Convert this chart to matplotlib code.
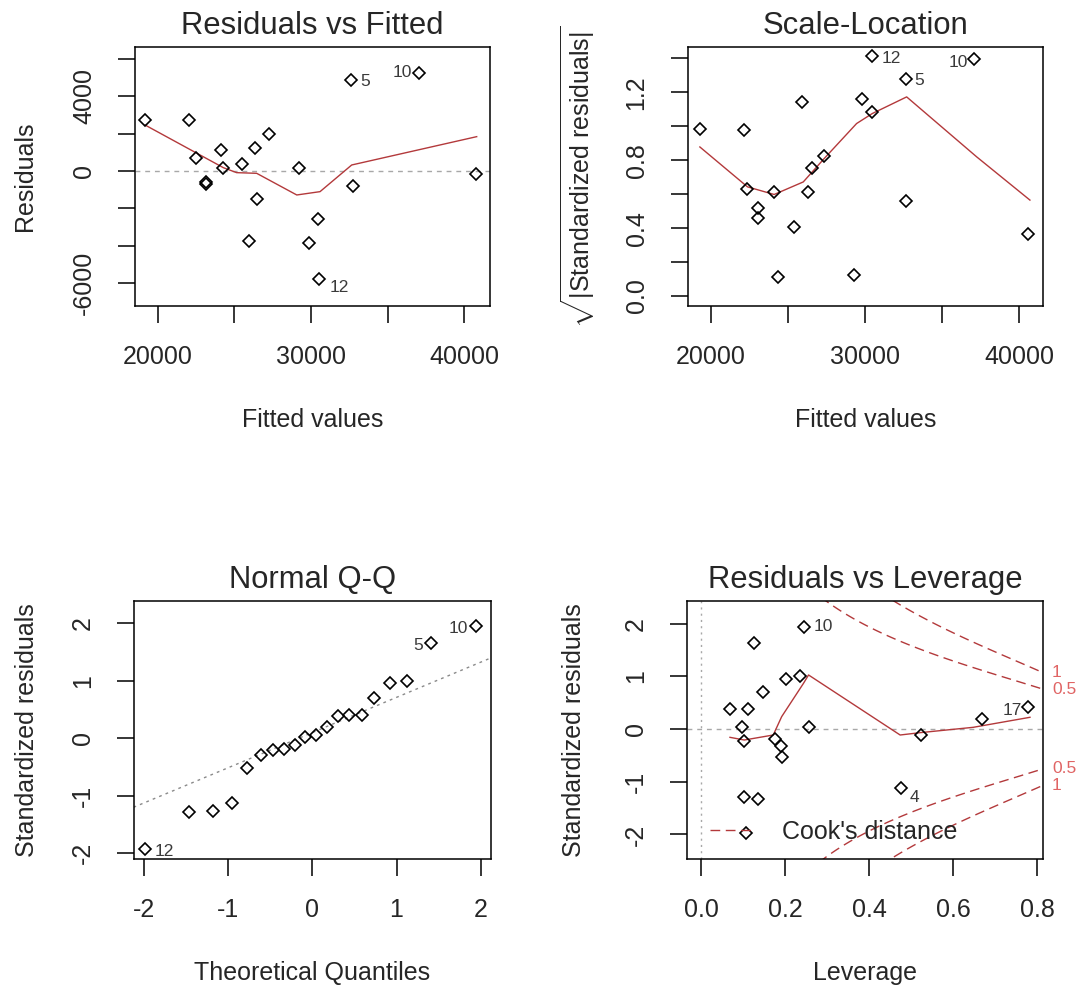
import numpy as np
import matplotlib
matplotlib.use("Agg")
import matplotlib.pyplot as plt
from matplotlib.lines import Line2D

plt.rcParams['font.family'] = ['Liberation Sans', 'DejaVu Sans']
plt.rcParams['mathtext.fontset'] = 'custom'
plt.rcParams['mathtext.rm'] = 'Liberation Sans'
plt.rcParams['mathtext.it'] = 'Liberation Sans:italic'
plt.rcParams['mathtext.bf'] = 'Liberation Sans:bold'

# ---- Residuals vs Fitted ----
fitted = [19150, 22030, 22460, 23120, 23120, 24120, 24270, 25470, 26340, 25970,
          26450, 27280, 29240, 29890, 30440, 30550, 32610, 32770, 37080, 40780]
residuals = [2730, 2730, 680, -570, -700, 1120, 140, 360, 1210, -3730,
             -1500, 1960, 140, -3830, -2570, -5760, 4870, -800, 5260, -180]
resid_ids = {16: "5", 18: "10", 15: "12"}
resid_smooth_x = [19150, 24270, 25140, 26450, 29070, 30590, 32660, 40830]
resid_smooth_y = [2460, 178, -89, -125, -1283, -1105, 321, 1836]

# ---- Scale-Location ----
sl_fitted = [19290, 22170, 22380, 23030, 23030, 24110, 24370, 25390, 25930, 26320,
             26540, 27360, 29310, 29830, 30480, 30480, 32660, 32660, 37100, 40600]
sl_sqrt_std = [0.986, 0.976, 0.633, 0.516, 0.457, 0.610, 0.114, 0.408, 1.143, 0.610,
               0.755, 0.824, 0.124, 1.163, 1.084, 1.412, 1.280, 0.561, 1.398, 0.363]
sl_ids = {15: "12", 16: "5", 18: "10"}
sl_smooth_x = [19290, 22380, 24110, 26000, 27360, 29460, 30480, 32710, 37250, 40710]
sl_smooth_y = [0.878, 0.643, 0.598, 0.672, 0.810, 1.016, 1.075, 1.173, 0.820, 0.565]

# ---- Normal Q-Q ----
theoretical_q = [-1.99, -1.46, -1.18, -0.96, -0.78, -0.61, -0.47, -0.34, -0.21, -0.09,
                 0.04, 0.18, 0.30, 0.44, 0.59, 0.73, 0.92, 1.12, 1.41, 1.94]
std_resid_sorted = [-1.93, -1.29, -1.26, -1.12, -0.52, -0.29, -0.20, -0.19, -0.12, 0.02,
                    0.06, 0.20, 0.38, 0.41, 0.41, 0.70, 0.97, 1.00, 1.66, 1.95]
qq_ids = {0: "12", 18: "5", 19: "10"}
qq_line_intercept = 0.10
qq_line_slope = 0.612

# ---- Residuals vs Leverage ----
leverage = [0.246, 0.127, 0.202, 0.236, 0.147, 0.069, 0.111, 0.098, 0.256, 0.103,
            0.175, 0.190, 0.194, 0.523, 0.670, 0.779, 0.475, 0.103, 0.136, 0.107]
lev_std_resid = [1.941, 1.638, 0.954, 1.006, 0.696, 0.380, 0.380, 0.032, 0.032, -0.222,
                 -0.190, -0.317, -0.537, -0.114, 0.190, 0.423, -1.125, -1.284, -1.334, -1.967]
lev_ids = {0: "10", 15: "17", 16: "4"}
lev_smooth_x = [0.069, 0.103, 0.172, 0.192, 0.244, 0.256, 0.474, 0.521, 0.648, 0.783]
lev_smooth_y = [-0.158, -0.209, -0.114, 0.234, 0.867, 1.025, -0.114, -0.070, 0.032, 0.222]
n_params = 5
cook_levels = [0.5, 1.0]

# ---- styling ----
RED = '#b3393b'
RED_TXT = '#e06464'
TXT = '#262626'
ID_TXT = '#3a3a3a'
W, H = 1078, 989

fig = plt.figure(figsize=(W / 100, H / 100), dpi=100)


def px_axes(left, top, right, bottom):
    return fig.add_axes([left / W, 1 - bottom / H, (right - left) / W, (bottom - top) / H])


def style(ax, xlim, ylim, xticks, xlabels, yticks, ylabels, title, xlabel, ylabel, ylab_x):
    ax.set_xlim(*xlim)
    ax.set_ylim(*ylim)
    ax.set_xticks(xticks)
    ax.set_xticklabels(xlabels)
    ax.set_yticks(yticks)
    ax.set_yticklabels(ylabels, rotation=90, va='center')
    ax.tick_params(direction='out', length=12, width=1.1, pad=16, labelsize=18,
                   labelcolor=TXT)
    for s in ax.spines.values():
        s.set_linewidth(1.1)
    ax.set_title(title, fontsize=22.3, pad=9, color=TXT)
    ax.set_xlabel(xlabel, fontsize=18, color=TXT)
    ax.xaxis.set_label_coords(0.5, -0.44)
    ax.xaxis.label.set_va('center')
    ax.set_ylabel(ylabel, fontsize=18, color=TXT)
    ax.yaxis.set_label_coords(ylab_x, 0.5)
    ax.yaxis.label.set_va('center')


def points(ax, x, y):
    ax.plot(x, y, linestyle='none', marker='D', ms=6.2, mfc='none', mec='black',
            mew=1.2, zorder=3)


def ids(ax, x, y, id_map, specs):
    for i, lab in id_map.items():
        dx, dy, ha = specs[lab]
        ax.annotate(lab, (x[i], y[i]), xytext=(dx, dy), textcoords='offset points',
                    ha=ha, va='center', fontsize=12.5, color=ID_TXT,
                    annotation_clip=False)


# Residuals vs Fitted
ax1 = px_axes(135, 47, 490, 306)
ax1.axhline(0, color='#a8a8a8', lw=1, ls=(0, (3.5, 3.5)), zorder=1)
ax1.plot(resid_smooth_x, resid_smooth_y, color=RED, lw=1.0, zorder=2)
points(ax1, fitted, residuals)
ids(ax1, fitted, residuals, resid_ids,
    {"5": (6.5, -1, 'left'), "10": (-5.3, 0, 'right'), "12": (7.7, -6.5, 'left')})
style(ax1, (18497, 41699), (-7220, 6630),
      [20000, 25000, 30000, 35000, 40000], ['20000', '', '30000', '', '40000'],
      [-6000, -4000, -2000, 0, 2000, 4000, 6000], ['-6000', '', '', '0', '', '4000', ''],
      'Residuals vs Fitted', 'Fitted values', 'Residuals', -0.31)

# Scale-Location
ax2 = px_axes(687.5, 47, 1043, 306)
ax2.plot(sl_smooth_x, sl_smooth_y, color=RED, lw=1.0, zorder=2)
points(ax2, sl_fitted, sl_sqrt_std)
ids(ax2, sl_fitted, sl_sqrt_std, sl_ids,
    {"12": (6.8, -1.7, 'left'), "5": (5.8, -1.2, 'left'), "10": (-4.5, -2.4, 'right')})
style(ax2, (18487, 41558), (-0.059, 1.467),
      [20000, 25000, 30000, 35000, 40000], ['20000', '', '30000', '', '40000'],
      [0.0, 0.2, 0.4, 0.6, 0.8, 1.0, 1.2, 1.4], ['0.0', '', '0.4', '', '0.8', '', '1.2', ''],
      'Scale-Location', 'Fitted values',
      r'$\sqrt{|\mathrm{Standardized\ residuals}|}$', -0.308)

# Normal Q-Q
ax3 = px_axes(134, 600.7, 491, 859.3)
qx = np.array([-2.2, 2.2])
ax3.plot(qx, qq_line_intercept + qq_line_slope * qx, color='#8a8a8a', lw=1,
         ls=(0, (2, 3)), zorder=1)
points(ax3, theoretical_q, std_resid_sorted)
ids(ax3, theoretical_q, std_resid_sorted, qq_ids,
    {"10": (-5.8, -1.4, 'right'), "5": (-5.8, -1.7, 'right'), "12": (7.2, -1.7, 'left')})
style(ax3, (-2.118, 2.122), (-2.104, 2.393),
      [-2, -1, 0, 1, 2], ['-2', '-1', '0', '1', '2'],
      [-2, -1, 0, 1, 2], ['-2', '-1', '0', '1', '2'],
      'Normal Q-Q', 'Theoretical Quantiles', 'Standardized residuals', -0.30)

# Residuals vs Leverage
ax4 = px_axes(686.7, 600.7, 1043, 859.3)
xlim4 = (-0.034, 0.814)
ylim4 = (-2.472, 2.434)
ax4.axhline(0, color='#a8a8a8', lw=1, ls=(0, (3.5, 3.5)), zorder=1)
ax4.axvline(0, color='#a8a8a8', lw=1, ls=(0, (1.5, 3)), zorder=1)
hh = np.linspace(0.0078, xlim4[1], 101)
for lvl in cook_levels:
    yc = np.sqrt(lvl * n_params * (1 - hh) / hh)
    ax4.plot(hh, yc, color=RED, lw=1.0, ls=(0, (7, 4)), zorder=2)
    ax4.plot(hh, -yc, color=RED, lw=1.0, ls=(0, (7, 4)), zorder=2)
    yl = np.sqrt(lvl * n_params * (1 - xlim4[1]) / xlim4[1])
    for sgn in (1, -1):
        ax4.text(1.025, sgn * yl, f"{lvl:g}", transform=ax4.get_yaxis_transform(),
                 ha='left', va='center', fontsize=12.5, color=RED_TXT, clip_on=False)
ax4.plot(lev_smooth_x, lev_smooth_y, color=RED, lw=1.0, zorder=2)
points(ax4, leverage, lev_std_resid)
ids(ax4, leverage, lev_std_resid, lev_ids,
    {"10": (7, 0, 'left'), "17": (-4.5, -2.4, 'right'), "4": (6.7, -6.5, 'left')})
style(ax4, xlim4, ylim4,
      [0.0, 0.2, 0.4, 0.6, 0.8], ['0.0', '0.2', '0.4', '0.6', '0.8'],
      [-2, -1, 0, 1, 2], ['-2', '-1', '0', '1', '2'],
      'Residuals vs Leverage', 'Leverage', 'Standardized residuals', -0.316)
leg = ax4.legend(handles=[Line2D([], [], color=RED, lw=1.0, ls=(0, (7, 4)))],
                 labels=["Cook's distance"], loc='center left',
                 bbox_to_anchor=((710 - 686.7) / 356.3, (859.3 - 832) / 258.6),
                 borderaxespad=0, borderpad=0, frameon=False, fontsize=18,
                 handlelength=1.7, handletextpad=1.2)
for t in leg.get_texts():
    t.set_color(TXT)

fig.savefig('out.png', dpi=100)
